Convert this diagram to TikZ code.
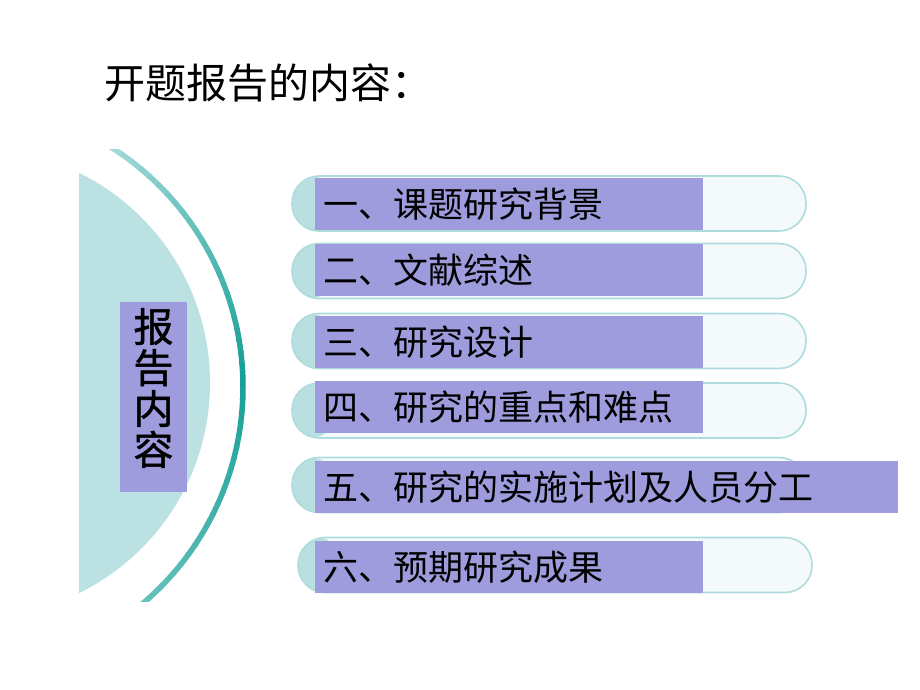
\documentclass[tikz,border=0pt]{standalone}
\usepackage{fontspec}
\setmainfont{Noto Sans CJK SC}
\newfontfamily\sidefont{Noto Sans CJK SC}[FakeBold=1.2]
\definecolor{circfill}{HTML}{BCE1E3}
\definecolor{arclight}{HTML}{A4DCD8}
\definecolor{arcdark}{HTML}{159E96}
\definecolor{arcbot}{HTML}{6CC6BF}
\definecolor{pilline}{HTML}{AEDCDC}
\definecolor{pillin}{HTML}{F4FAFB}
\definecolor{pillteal}{HTML}{B9DFE1}
\definecolor{boxpurple}{HTML}{9E9CDD}
\begin{document}
\begin{tikzpicture}[x=1pt,y=-1pt,
  pill/.style={draw=pilline, line width=1.6pt, fill=pillin, rounded corners=27pt,
    minimum width=514pt, minimum height=55pt, inner sep=0pt,
    path picture={\fill[pillteal] (path picture bounding box.south west) rectangle ([xshift=45pt]path picture bounding box.north west);}},
  itembox/.style={fill=boxpurple, anchor=north west, minimum height=52pt, inner ysep=0pt,
    inner xsep=8pt, align=left, text width=372pt, font=\fontsize{35pt}{40pt}\selectfont},
  titletext/.style={anchor=west, inner sep=0pt, font=\fontsize{41pt}{46pt}\selectfont},
  sidebox/.style={fill=boxpurple, minimum width=67pt, minimum height=190pt, inner sep=0pt},
  sidetext/.style={inner sep=0pt, align=center, font=\sidefont\fontsize{40pt}{41pt}\selectfont}
]
\useasboundingbox (0,0) rectangle (920,690);
\fill[white] (0,0) rectangle (920,690);

% title
\node[titletext] (title) at (104,83) {开题报告的内容：};

% left big circle and arc
\coordinate (C1) at (-24,383);
\coordinate (C2) at (-41,387);
\begin{scope}
  \clip (79,149) rectangle (320,601);
  \fill[circfill] (C1) circle[radius=234];
  \foreach \i in {0,...,47} {
    \pgfmathsetmacro{\a}{-60+\i*2.4}
    \pgfmathsetmacro{\b}{\a+2.7}
    \pgfmathsetmacro{\t}{\i/47}
    \pgfmathsetmacro{\p}{\t<0.5 ? 100*(\t/0.5) : 100*((1-\t)/0.5)}
    \ifdim\t pt<0.5pt
      \colorlet{segcol}{arcdark!\p!arclight}
    \else
      \colorlet{segcol}{arcdark!\p!arcbot}
    \fi
    \draw[line width=5.5pt, segcol] (C2) ++(\a:284) arc[start angle=\a, end angle=\b, radius=284];
  }
\end{scope}

% side label
\node[sidebox] (side) at (153.5,397) {};
\node[sidetext] (sidelabel) at (153.5,388) {报\\告\\内\\容};

% pills
\node[pill] (p1) at (549,203.5) {};
\node[pill] (p2) at (549,271) {};
\node[pill] (p3) at (549,341) {};
\node[pill] (p4) at (549,410.5) {};
\node[pill] (p5) at (549,485) {};
\node[pill] (p6) at (555,565) {};

% purple items
\node[itembox] (i1) at (315,178) {一、课题研究背景};
\node[itembox] (i2) at (315,244) {二、文献综述};
\node[itembox] (i3) at (315,316) {三、研究设计};
\node[itembox] (i4) at (315,381) {四、研究的重点和难点};
\node[itembox, text width=567pt] (i5) at (315,461) {五、研究的实施计划及人员分工};
\node[itembox] (i6) at (315,541) {六、预期研究成果};
\end{tikzpicture}
\end{document}
